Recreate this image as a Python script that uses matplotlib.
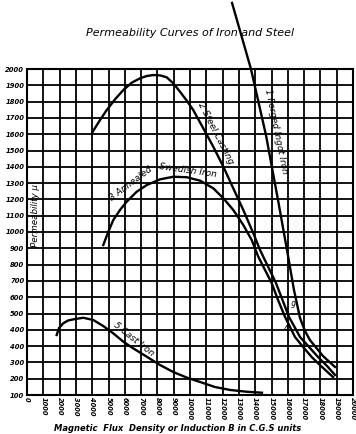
import numpy as np
import matplotlib.pyplot as plt

## Data (B in CGS units, permeability mu)
# y positions run 0..2000 in steps of 100, labels printed as on the original
y_tick_pos = list(range(0, 2100, 100))
y_tick_labels = ["100", "200", "300", "400", "400", "500", "600", "700", "800", "900",
                 "1000", "1100", "1200", "1300", "1400", "1500", "1600", "1700",
                 "1800", "1900", "2000"]
x_tick_pos = list(range(0, 21000, 1000))
x_tick_labels = [str(v) for v in x_tick_pos]

# 1 Forged Ingot Iron
B1 = [12580, 13740, 14660, 15400, 15950, 16380, 16750, 17055, 17360, 18160, 18895]
mu1 = [2405, 2000, 1595, 1196, 890, 644, 472, 393, 337, 239, 172]

# 2 Steel Casting
B2 = [4030, 4480, 4890, 5400, 5910, 6425, 6935, 7345, 7750, 8160, 8570, 8975,
      9385, 9800, 10200, 10815, 11430, 12045, 12655, 13270, 13885, 14295,
      15275, 15675, 16075, 16750, 17300, 17855, 18405, 18895]
mu2 = [1615, 1687, 1748, 1814, 1871, 1916, 1943, 1957, 1963, 1961, 1949, 1912,
       1861, 1806, 1748, 1636, 1523, 1401, 1268, 1135, 992, 890,
       687, 583, 479, 356, 295, 233, 178, 123]

# 3 Annealed Swedish Iron
B3 = [4680, 4990, 5295, 5705, 6115, 6730, 7345, 8160, 8975, 9800, 10615,
      11430, 12045, 12655, 13270, 13785, 14190, 15010, 15400, 15830, 16440,
      16935, 17465, 18035, 18775]
mu3 = [920, 1002, 1074, 1135, 1186, 1247, 1288, 1323, 1339, 1336, 1315,
       1268, 1207, 1135, 1043, 951, 848, 687, 583, 479, 356,
       295, 233, 178, 110]

# 5 Cast Iron
B5 = [1820, 1965, 2225, 2515, 2840, 3455, 4070, 4680, 5295, 5910, 6520, 7345,
      8160, 8975, 9800, 10615, 11535, 12455, 13480, 14415]
mu5 = [368, 411, 440, 457, 464, 474, 460, 423, 378, 327, 286, 235,
       184, 141, 107, 80, 49, 31, 20, 14]

fig = plt.figure(figsize=(3.56, 4.34), dpi=100)
ax = fig.add_axes([27/356, 1-395/434, 326/356, 326/434])

lw = 1.7
ax.plot(B1, mu1, color='black', lw=lw, clip_on=False, solid_joinstyle='round')
ax.plot(B2, mu2, color='black', lw=lw, solid_joinstyle='round')
ax.plot(B3, mu3, color='black', lw=lw, solid_joinstyle='round')
ax.plot(B5, mu5, color='black', lw=lw, solid_joinstyle='round')

ax.set_xlim(0, 20000)
ax.set_ylim(0, 2000)
ax.set_xticks(x_tick_pos)
ax.set_yticks(y_tick_pos)
ax.set_xticklabels(x_tick_labels, rotation=270, fontsize=4.8, fontweight='bold', style='italic')
ax.set_yticklabels(y_tick_labels, fontsize=4.9, fontweight='bold', style='italic')
ax.tick_params(axis='x', length=0, pad=1.5)
ax.tick_params(axis='y', length=0, pad=2)
ax.grid(color='black', lw=1.3)
ax.set_axisbelow(True)
for s in ax.spines.values():
    s.set_linewidth(1.5)

# curve labels
lab = dict(fontsize=6.5, style='italic', ha='center', va='center', rotation_mode='anchor')
ax.text(15250, 1617, "1 Forged Ingot Iron", rotation=-78.5, **lab)
ax.text(11595, 1607, "2 Steel Casting", rotation=-62.8, **lab)
ax.text(6380, 1294, "3 Annealed", rotation=37, **lab)
ax.text(9880, 1380, "Swedish Iron", rotation=-8, **lab)
ax.text(6565, 343, "5 Cast Iron", rotation=-38.4, **lab)
ax.text(16320, 552, "9", fontsize=5.5, style='italic', ha='center', va='center')
ax.text(15890, 405, "4", fontsize=5.5, style='italic', ha='center', va='center')
ax.text(550, 1100, "Permeability \u03bc", rotation=90, fontsize=6.3, style='italic',
        ha='center', va='center')

fig.text(0.534, 0.924, "Permeability Curves of Iron and Steel", fontsize=8,
         style='italic', ha='center', va='center')
fig.text(0.5, 0.012, "Magnetic  Flux  Density or Induction B in C.G.S units",
         fontsize=6, style='italic', fontweight='bold', ha='center', va='center')

plt.savefig("out.png", dpi=100)
